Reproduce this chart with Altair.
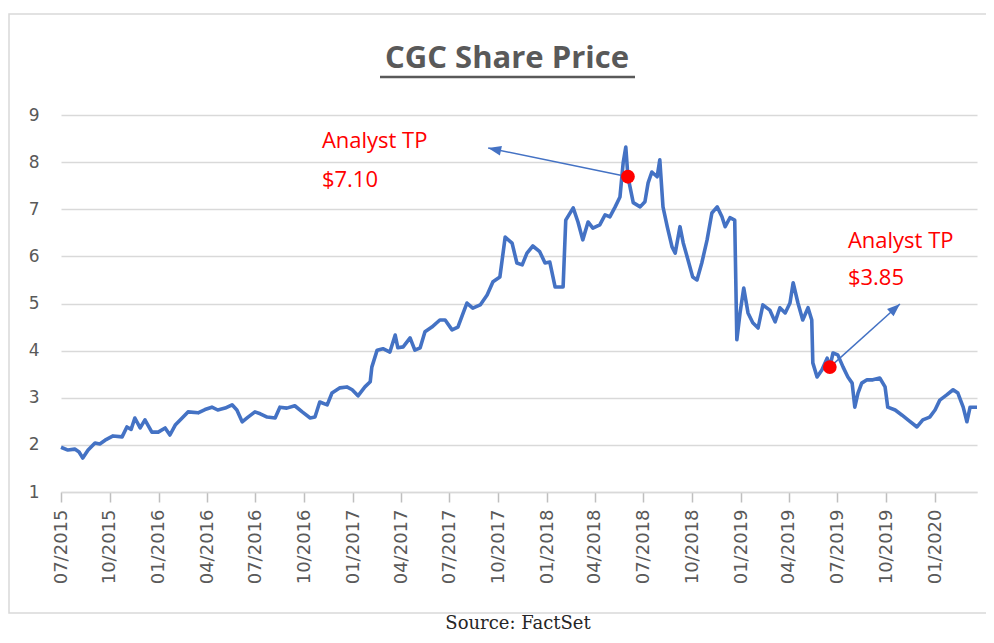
import altair as alt
import pandas as pd

# ---- data ----
dates = [
    "2015-07-01", "2015-07-14", "2015-07-27", "2015-08-04", "2015-08-11", "2015-08-21",
    "2015-09-03", "2015-09-12", "2015-09-22", "2015-10-07", "2015-10-24", "2015-11-02",
    "2015-11-10", "2015-11-17", "2015-11-27", "2015-12-06", "2015-12-19", "2015-12-31",
    "2016-01-13", "2016-01-22", "2016-02-01", "2016-02-14", "2016-02-25", "2016-03-15",
    "2016-03-28", "2016-04-10", "2016-04-21", "2016-05-05", "2016-05-18", "2016-05-27",
    "2016-06-06", "2016-06-17", "2016-06-30", "2016-07-10", "2016-07-23", "2016-08-07",
    "2016-08-16", "2016-08-29", "2016-09-13", "2016-09-27", "2016-10-12", "2016-10-21",
    "2016-10-30", "2016-11-13", "2016-11-22", "2016-12-07", "2016-12-20", "2016-12-30",
    "2017-01-10", "2017-01-23", "2017-02-02", "2017-02-05", "2017-02-15", "2017-02-26",
    "2017-03-11", "2017-03-21", "2017-03-26", "2017-04-05", "2017-04-18", "2017-04-27",
    "2017-05-07", "2017-05-16", "2017-05-29", "2017-06-13", "2017-06-23", "2017-07-06",
    "2017-07-17", "2017-07-27", "2017-08-03", "2017-08-14", "2017-08-28", "2017-09-10",
    "2017-09-21", "2017-10-04", "2017-10-14", "2017-10-27", "2017-11-05", "2017-11-15",
    "2017-11-24", "2017-12-05", "2017-12-18", "2017-12-28",
    "2018-01-06", "2018-01-16", "2018-01-31", "2018-02-05", "2018-02-19", "2018-02-28",
    "2018-03-09", "2018-03-19", "2018-03-28", "2018-04-10", "2018-04-20", "2018-04-29",
    "2018-05-09", "2018-05-18", "2018-05-24", "2018-05-29", "2018-06-02", "2018-06-12",
    "2018-06-25", "2018-07-04", "2018-07-10", "2018-07-17", "2018-07-27", "2018-08-01",
    "2018-08-07", "2018-08-15", "2018-08-24", "2018-08-30", "2018-09-08", "2018-09-14",
    "2018-09-23", "2018-10-02", "2018-10-10", "2018-10-19", "2018-10-29", "2018-11-07",
    "2018-11-17", "2018-11-26", "2018-12-02", "2018-12-11", "2018-12-20", "2018-12-24",
    "2018-12-30",
    "2019-01-06", "2019-01-14", "2019-01-23", "2019-02-02", "2019-02-11", "2019-02-24",
    "2019-03-06", "2019-03-15", "2019-03-25", "2019-04-03", "2019-04-09", "2019-04-18",
    "2019-04-27", "2019-05-07", "2019-05-14", "2019-05-16", "2019-05-24", "2019-06-02",
    "2019-06-12", "2019-06-17", "2019-06-23", "2019-07-02", "2019-07-12", "2019-07-21",
    "2019-07-29", "2019-08-03", "2019-08-09", "2019-08-16", "2019-08-26", "2019-09-06",
    "2019-09-19", "2019-09-29", "2019-10-04", "2019-10-18", "2019-10-31", "2019-11-11",
    "2019-11-28", "2019-12-09", "2019-12-22",
    "2020-01-01", "2020-01-10", "2020-01-23", "2020-02-04", "2020-02-13", "2020-02-23",
    "2020-03-01", "2020-03-07", "2020-03-20",
]
prices = [
    1.95, 1.89, 1.91, 1.85, 1.72, 1.89, 2.04, 2.02, 2.10, 2.19, 2.17, 2.38,
    2.33, 2.57, 2.36, 2.53, 2.27, 2.27,
    2.36, 2.21, 2.42, 2.57, 2.70, 2.68, 2.75, 2.80, 2.74, 2.78, 2.85, 2.74,
    2.49, 2.59, 2.70, 2.66, 2.59, 2.57, 2.80, 2.78, 2.83, 2.70, 2.57, 2.59,
    2.91, 2.85, 3.10, 3.21, 3.23, 3.17,
    3.04, 3.23, 3.34, 3.65, 4.01, 4.04, 3.97, 4.33, 4.06, 4.08, 4.27, 4.01,
    4.06, 4.40, 4.50, 4.65, 4.65, 4.44, 4.50, 4.80, 5.01, 4.90, 4.97, 5.18,
    5.46, 5.56, 6.41, 6.28, 5.86, 5.82, 6.07, 6.22, 6.10, 5.86,
    5.88, 5.35, 5.35, 6.77, 7.03, 6.73, 6.35, 6.73, 6.60, 6.67, 6.88, 6.84,
    7.05, 7.26, 7.98, 8.32, 7.69, 7.14, 7.05, 7.16, 7.56, 7.79, 7.69, 8.05,
    7.05, 6.63, 6.20, 6.07, 6.63, 6.29, 5.93, 5.56, 5.50, 5.86, 6.35, 6.92,
    7.05, 6.84, 6.63, 6.82, 6.77, 4.23, 4.80,
    5.33, 4.80, 4.59, 4.48, 4.97, 4.86, 4.61, 4.91, 4.80, 5.01, 5.44, 5.01,
    4.65, 4.91, 4.65, 3.74, 3.44, 3.59, 3.84, 3.65, 3.95, 3.91, 3.65, 3.44,
    3.31, 2.80, 3.10, 3.31, 3.38, 3.38, 3.42, 3.23, 2.80, 2.74, 2.63, 2.53,
    2.38, 2.53, 2.59,
    2.74, 2.95, 3.06, 3.17, 3.10, 2.80, 2.49, 2.80, 2.80,
]

tick_dates = [
    (2015, 7), (2015, 10), (2016, 1), (2016, 4), (2016, 7), (2016, 10),
    (2017, 1), (2017, 4), (2017, 7), (2017, 10), (2018, 1), (2018, 4),
    (2018, 7), (2018, 10), (2019, 1), (2019, 4), (2019, 7), (2019, 10), (2020, 1),
]
y_ticks = [1, 2, 3, 4, 5, 6, 7, 8, 9]

# analyst target-price markers (dot on the line, arrow tip)
dot_dates = ["2018-06-02", "2019-06-17"]
dot_values = [7.69, 3.65]
tip_dates = ["2017-09-12", "2019-10-27"]
tip_values = [8.30, 4.99]

# annotation labels
label_texts = ["Analyst TP", "$7.10", "Analyst TP", "$3.85"]
label_dates = ["2016-11-03", "2016-11-03", "2019-07-21", "2019-07-21"]
label_values = [8.30, 7.48, 6.18, 5.39]

title_text = "CGC Share Price"
source_text = "Source: FactSet"

# ---- chart ----
BLUE = "#4472C4"
GREY = "#595959"
GRID = "#d9d9d9"

line_df = pd.DataFrame({"date": dates, "value": prices})
dot_df = pd.DataFrame({"date": dot_dates, "value": dot_values})
arrow_df = pd.DataFrame({"date": dot_dates, "value": dot_values,
                         "date2": tip_dates, "value2": tip_values})
label_df = pd.DataFrame({"date": label_dates, "value": label_values, "label": label_texts})

xscale = alt.Scale(type="utc",
                   domain=[alt.DateTime(year=2015, month=7, date=1, utc=True),
                           alt.DateTime(year=2020, month=3, date=20, utc=True)],
                   nice=False)
yscale = alt.Scale(domain=[1, 9], nice=False, zero=False)

X = alt.X("date:T", scale=xscale, title=None,
          axis=alt.Axis(values=[alt.DateTime(year=y, month=m, date=1, utc=True) for y, m in tick_dates],
                        format="%m/%Y", labelAngle=270, grid=False,
                        domainColor=GRID, domainWidth=1.5,
                        tickColor="#bfbfbf", tickWidth=1.5, tickSize=10,
                        labelPadding=7, labelFont="DejaVu Sans", labelFontSize=18,
                        labelColor=GREY))
Y = alt.Y("value:Q", scale=yscale, title=None,
          axis=alt.Axis(values=y_ticks, grid=True, gridColor=GRID, gridWidth=1.5,
                        domain=False, ticks=False, tickSize=0, labelPadding=22,
                        labelFont="DejaVu Sans", labelFontSize=17, labelColor=GREY))

border = alt.Chart(pd.DataFrame({"k": [0]})).mark_rect(
    fillOpacity=0, stroke=GRID, strokeWidth=1.5
).encode(x=alt.value(-52), x2=alt.value(940), y=alt.value(-101), y2=alt.value(498))

line = alt.Chart(line_df).mark_line(color=BLUE, strokeWidth=3.6, strokeJoin="round").encode(x=X, y=Y)

arrows = alt.Chart(arrow_df).mark_rule(color=BLUE, strokeWidth=1.5).encode(
    x=X, y=Y, x2="date2:T", y2="value2:Q")

head_path = "M0,0L-0.75,2L0.75,2Z"
head1 = alt.Chart(pd.DataFrame({"date": [tip_dates[0]], "value": [tip_values[0]]})).mark_point(
    shape=head_path, filled=True, size=169, angle=282, color=BLUE, opacity=1
).encode(x=X, y=Y)
head2 = alt.Chart(pd.DataFrame({"date": [tip_dates[1]], "value": [tip_values[1]]})).mark_point(
    shape=head_path, filled=True, size=169, angle=48, color=BLUE, opacity=1
).encode(x=X, y=Y)

dots = alt.Chart(dot_df).mark_circle(color="#FF0000", size=190, opacity=1).encode(x=X, y=Y)

labels = alt.Chart(label_df).mark_text(
    align="left", baseline="alphabetic", color="#FF0000", font="Open Sans", fontSize=22
).encode(x=X, y=Y, text="label:N")

title = alt.Chart(pd.DataFrame({"t": [title_text]})).mark_text(
    align="center", baseline="alphabetic", color=GREY, font="Open Sans",
    fontSize=31, fontWeight="bold"
).encode(x=alt.value(446), y=alt.value(-47), text="t:N")

underline = alt.Chart(pd.DataFrame({"k": [0]})).mark_rule(color=GREY, strokeWidth=2.5).encode(
    x=alt.value(319), x2=alt.value(574), y=alt.value(-38))

source = alt.Chart(pd.DataFrame({"t": [source_text]})).mark_text(
    align="center", baseline="alphabetic", color="#262626", font="DejaVu Serif", fontSize=18
).encode(x=alt.value(457), y=alt.value(514), text="t:N")

chart = alt.layer(border, line, arrows, head1, head2, dots, labels, title, underline, source).properties(
    width=916, height=377,
    padding={"left": 53, "top": 107, "right": 9, "bottom": 143},
    autosize=alt.AutoSizeParams(type="none"),
    background="white",
).configure_view(strokeWidth=0)

chart.save("out.html", embed_options={"renderer": "svg", "actions": False})
